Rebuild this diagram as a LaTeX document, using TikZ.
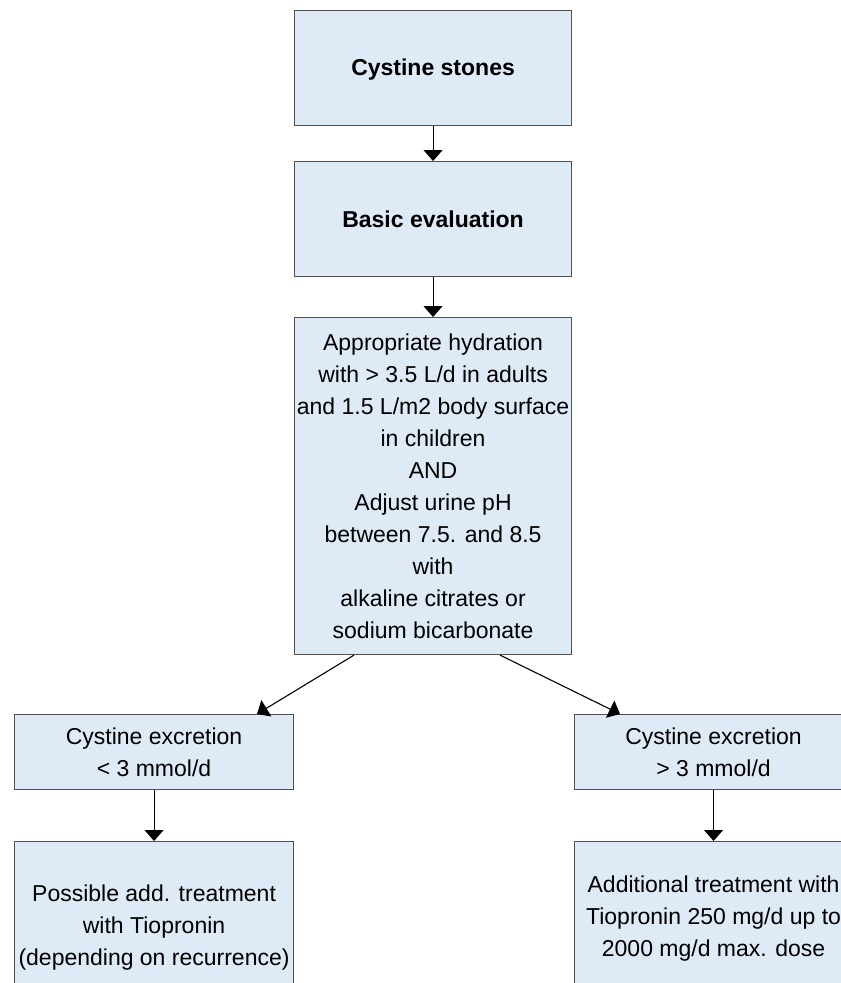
\documentclass[tikz,border=0pt]{standalone}
\usepackage{fontspec}
\setmainfont{Liberation Sans}
\usetikzlibrary{arrows.meta,calc}
\definecolor{boxfill}{RGB}{222,234,246}
\definecolor{boxline}{RGB}{80,80,80}
\tikzset{
  flowbox/.style={draw=boxline, fill=boxfill, line width=1.1pt, inner sep=0pt,
    align=center, anchor=north west,
    font=\fontsize{23}{32}\selectfont},
  conn/.style={line width=1.1pt, -{Triangle[width=19pt,length=11pt]}}
}
\begin{document}
\begin{tikzpicture}[x=1pt,y=-1pt]
\useasboundingbox (0,0) rectangle (841,983);
\clip (0,0) rectangle (841,983);
\node[flowbox, minimum width=277pt, minimum height=115pt, text depth=1pt] (b1) at (294,10) {\bfseries Cystine stones};
\node[flowbox, minimum width=277pt, minimum height=115pt] (b2) at (294,161) {\bfseries Basic evaluation};
\node[flowbox, minimum width=277pt, minimum height=337pt] (b3) at (294,317) {Appropriate hydration\\with > 3.5 L/d in adults\\and 1.5 L/m2 body surface\\in children\\AND\\Adjust urine pH\\between 7.5. and 8.5\\with\\alkaline citrates or\\sodium bicarbonate};
\node[flowbox, minimum width=279pt, minimum height=75pt] (l1) at (14,714) {Cystine excretion\\< 3 mmol/d};
\node[flowbox, minimum width=278pt, minimum height=75pt] (r1) at (574,714) {Cystine excretion\\> 3 mmol/d};
\node[flowbox, minimum width=279pt, minimum height=172pt] (l2) at (14,841) {Possible add. treatment\\with Tiopronin\\(depending on recurrence)};
\node[flowbox, minimum width=278pt, minimum height=154pt] (r2) at (574,841) {Additional treatment with\\Tiopronin 250 mg/d up to\\2000 mg/d max. dose};
\draw[conn] (b1.south) -- (b2.north);
\draw[conn] (b2.south) -- (b3.north);
\draw[conn] ($(b3.south west)+(60,0)$) -- ($(l1.north west)+(243,0)$);
\draw[conn] ($(b3.south west)+(206,0)$) -- ($(r1.north west)+(46,0)$);
\draw[conn] (l1.south) -- (l2.north);
\draw[conn] (r1.south) -- (r2.north);
\end{tikzpicture}
\end{document}
